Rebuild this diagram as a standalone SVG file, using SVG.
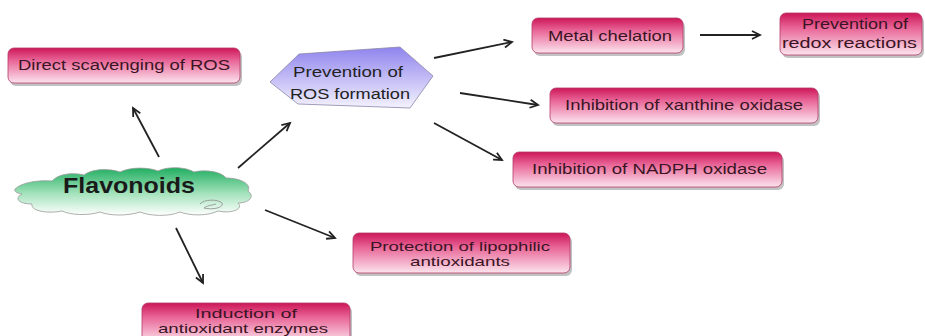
<svg xmlns="http://www.w3.org/2000/svg" width="925" height="336" viewBox="0 0 925 336">
<defs>
<linearGradient id="pink" x1="0" y1="0" x2="0" y2="1">
<stop offset="0" stop-color="#cc1658"/>
<stop offset="0.35" stop-color="#e86496"/>
<stop offset="1" stop-color="#fce4ed"/>
</linearGradient>
<linearGradient id="lav" x1="0" y1="0" x2="0" y2="1">
<stop offset="0" stop-color="#8f84ee"/>
<stop offset="1" stop-color="#f4f2fd"/>
</linearGradient>
<linearGradient id="green" x1="0" y1="0" x2="0" y2="1">
<stop offset="0" stop-color="#1fae60"/>
<stop offset="0.55" stop-color="#a6e3bd"/>
<stop offset="1" stop-color="#ffffff"/>
</linearGradient>
<marker id="arr" markerWidth="12" markerHeight="12" refX="9" refY="5" orient="auto" markerUnits="userSpaceOnUse">
<path d="M1,1 L9,5 L1,9" fill="none" stroke="#222" stroke-width="1.8"/>
</marker>
</defs>
<style>
.box{fill:url(#pink);stroke:#b23a68;stroke-width:0.8}
.shadow{fill:#9a9a9a;opacity:0.6}
.t{font-family:"Liberation Sans",Arial,sans-serif;font-size:14px;fill:#3a1424}
.t2{font-family:"Liberation Sans",Arial,sans-serif;font-size:13px;fill:#3a1424}
.tc{font-family:"Liberation Sans",Arial,sans-serif;font-size:14px;fill:#222}
.conn line{stroke:#222;stroke-width:1.8;marker-end:url(#arr)}
</style>
<rect width="925" height="336" fill="#ffffff"/>

<g id="connectors" class="conn">
<line x1="159" y1="157" x2="133" y2="108"/>
<line x1="238" y1="168" x2="290" y2="123"/>
<line x1="434" y1="58" x2="512" y2="42"/>
<line x1="460" y1="93" x2="538" y2="105"/>
<line x1="434" y1="123" x2="502" y2="160"/>
<line x1="265" y1="210" x2="335" y2="238"/>
<line x1="176" y1="228" x2="203" y2="283"/>
<line x1="700" y1="35" x2="760" y2="35"/>
</g>

<g id="flavonoids">
<path d="M15,189 C22,182 40,180 52,181 C58,174 72,172 84,175 C92,169 108,168 120,172 C130,167 148,167 158,171 C168,166 186,167 194,172 C206,169 222,172 226,178 C240,178 252,184 248,191 C255,196 250,203 238,203 C244,209 232,214 218,211 C208,216 190,216 180,212 C168,217 150,216 140,212 C128,216 110,216 100,212 C88,216 70,215 62,211 C48,214 30,211 32,204 C18,204 14,198 22,194 C16,193 14,191 15,189 Z" fill="url(#green)" stroke="#9a9a9a" stroke-width="0.8"/>
<path d="M200,204 C204,199 218,199 222,203 C224,208 212,210 204,208 C208,205 214,205 216,204" fill="none" stroke="#8a8a8a" stroke-width="0.8"/>
<text x="63" y="193" textLength="132" lengthAdjust="spacingAndGlyphs" style="font-family:'Liberation Sans',Arial,sans-serif;font-size:22px;font-weight:bold;fill:#1a1a1a">Flavonoids</text>
</g>

<g id="direct">
<rect class="shadow" x="10" y="51" width="232" height="35" rx="6"/>
<rect class="box" x="8" y="48" width="232" height="35" rx="6"/>
<text class="t" x="18" y="70" textLength="212" lengthAdjust="spacingAndGlyphs">Direct scavenging of ROS</text>
</g>

<g id="prevention-ros">
<polygon points="270,82 299,54 400,47 433,76 410,108 298,104" fill="url(#lav)" stroke="#8a86a8" stroke-width="0.8"/>
<text class="tc" x="293" y="77" textLength="110" lengthAdjust="spacingAndGlyphs">Prevention of</text>
<text class="tc" x="290" y="99" textLength="120" lengthAdjust="spacingAndGlyphs">ROS formation</text>
</g>

<g id="metal">
<rect class="shadow" x="534" y="21" width="151" height="35" rx="6"/>
<rect class="box" x="532" y="18" width="151" height="35" rx="6"/>
<text class="t" x="548" y="41" textLength="124" lengthAdjust="spacingAndGlyphs">Metal chelation</text>
</g>

<g id="redox">
<rect class="shadow" x="782" y="16" width="142" height="42" rx="6"/>
<rect class="box" x="780" y="13" width="142" height="42" rx="6"/>
<text class="t" x="802" y="29" textLength="106" lengthAdjust="spacingAndGlyphs">Prevention of</text>
<text class="t" x="782" y="48" textLength="135" lengthAdjust="spacingAndGlyphs">redox reactions</text>
</g>

<g id="xanthine">
<rect class="shadow" x="552" y="91" width="268" height="35" rx="6"/>
<rect class="box" x="550" y="88" width="268" height="35" rx="6"/>
<text class="t" x="565" y="110" textLength="238" lengthAdjust="spacingAndGlyphs">Inhibition of xanthine oxidase</text>
</g>

<g id="nadph">
<rect class="shadow" x="515" y="155" width="269" height="35" rx="6"/>
<rect class="box" x="513" y="152" width="269" height="35" rx="6"/>
<text class="t" x="532" y="174" textLength="235" lengthAdjust="spacingAndGlyphs">Inhibition of NADPH oxidase</text>
</g>

<g id="protection">
<rect class="shadow" x="355" y="236" width="217" height="40" rx="6"/>
<rect class="box" x="353" y="233" width="217" height="40" rx="6"/>
<text class="t2" x="370" y="251" textLength="180" lengthAdjust="spacingAndGlyphs">Protection of lipophilic</text>
<text class="t2" x="410" y="266" textLength="100" lengthAdjust="spacingAndGlyphs">antioxidants</text>
</g>

<g id="induction">
<rect class="shadow" x="144" y="306" width="208" height="40" rx="6"/>
<rect class="box" x="142" y="303" width="208" height="40" rx="6"/>
<text class="t2" x="195" y="318" textLength="102" lengthAdjust="spacingAndGlyphs">Induction of</text>
<text class="t2" x="158" y="333" textLength="170" lengthAdjust="spacingAndGlyphs">antioxidant enzymes</text>
</g>
</svg>
